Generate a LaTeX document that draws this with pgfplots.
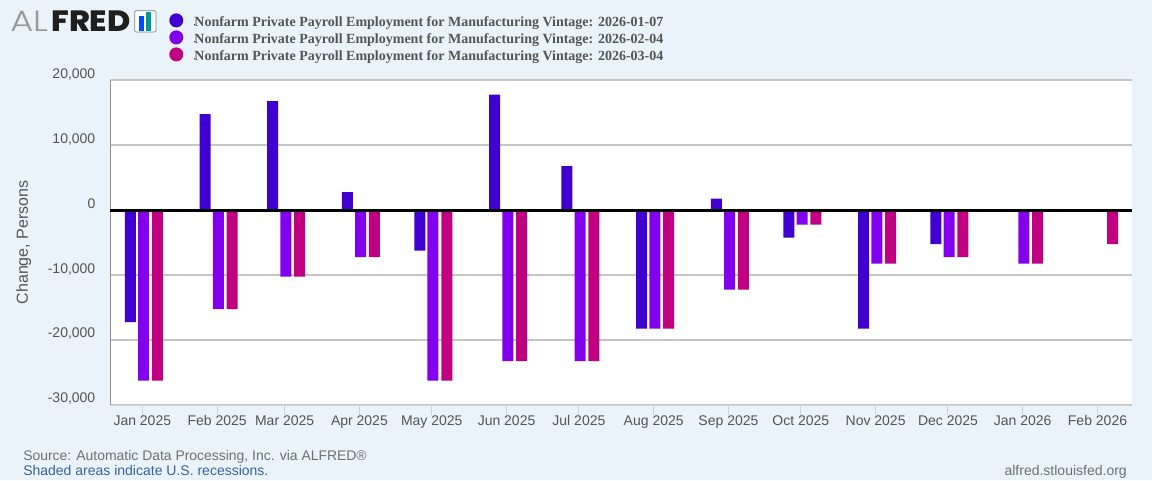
\documentclass[border=0pt]{standalone}
\usepackage{fontspec}
\usepackage{pgfplots}
\pgfplotsset{compat=1.18}
\setmainfont{Liberation Sans}
\newfontfamily\legendfont{Liberation Serif}
\newfontfamily\logoheavy{Poppins ExtraBold}
\newfontfamily\logolight{Poppins Light}
\definecolor{pagebg}{HTML}{EAF2FA}
\definecolor{gridgray}{HTML}{C6C6C6}
\definecolor{tickblue}{HTML}{C8D4E6}
\definecolor{labelgray}{HTML}{555555}
\definecolor{sourcegray}{HTML}{707070}
\definecolor{recessblue}{HTML}{3465A4}
\definecolor{serA}{HTML}{4000CF}
\definecolor{serB}{HTML}{8200EE}
\definecolor{serC}{HTML}{C00080}
\newcommand{\labelfont}{\fontsize{10.5pt}{12pt}\selectfont}

% x is days since 2025-01-01, y is change in persons
\pgfplotstableread{
day   v
0    -17000
31    15000
59    17000
90     3000
120   -6000
151   18000
181    7000
212  -18000
243    2000
273   -4000
304  -18000
334   -5000
}\vintageA
\pgfplotstableread{
day   v
0    -26000
31   -15000
59   -10000
90    -7000
120  -26000
151  -23000
181  -23000
212  -18000
243  -12000
273   -2000
304   -8000
334   -7000
365   -8000
}\vintageB
\pgfplotstableread{
day   v
0    -26000
31   -15000
59   -10000
90    -7000
120  -26000
151  -23000
181  -23000
212  -18000
243  -12000
273   -2000
304   -8000
334   -7000
365   -8000
396   -5000
}\vintageC

\begin{document}
\begin{tikzpicture}
\path[use as bounding box, fill=pagebg] (0pt,0pt) rectangle (864pt,360pt);

% logo
\node[anchor=base west, inner sep=0pt, text=gray!80] at (7.5pt,336.2pt)
  {\scalebox{1.2}[1]{\fontsize{22pt}{22pt}\logolight AL}};
\node[anchor=base west, inner sep=0pt, text=black!88] at (38.25pt,336.2pt)
  {\scalebox{1.08}[1]{\fontsize{22pt}{22pt}\logoheavy FRED}};
\draw[gray, fill=white, rounded corners=1pt, line width=0.5pt]
  (101pt,336pt) rectangle (117pt,352pt);
\fill[blue!70!cyan] (104.2pt,336.5pt) rectangle (108pt,348pt);
\fill[teal!80!cyan] (109.5pt,336.5pt) rectangle (113.2pt,351pt);

\begin{axis}[
    at={(82.5pt,56.25pt)}, anchor=south west,
    scale only axis, width=766.5pt, height=243.75pt,
    xmin=-13.4, xmax=410.3,
    ymin=-30000, ymax=20000,
    axis background/.style={fill=white},
    axis lines*=left,
    axis line style={-},
    x axis line style={tickblue, line width=0.75pt},
    y axis line style={gray!85, line width=0.75pt},
    xtick={0,31,59,90,120,151,181,212,243,273,304,334,365,396},
    xticklabels={Jan 2025,Feb 2025,Mar 2025,Apr 2025,May 2025,Jun 2025,Jul 2025,Aug 2025,Sep 2025,Oct 2025,Nov 2025,Dec 2025,Jan 2026,Feb 2026},
    ytick={-30000,-20000,-10000,0,10000,20000},
    scaled y ticks=false,
    tick align=outside,
    major tick length=7.5pt,
    xtick style={tickblue, line width=0.75pt},
    ytick style={draw=none},
    ymajorgrids,
    y grid style={gridgray, line width=1.5pt},
    tick label style={font=\labelfont, text=labelgray},
    xticklabel style={yshift=3pt},
    yticklabel style={anchor=east, yshift=4.5pt, xshift=0pt},
    /pgf/number format/.cd, 1000 sep={,}, assume math mode=true, /pgfplots/.cd,
    ylabel={Change, Persons},
    ylabel style={at={(axis description cs:-0.0845,0.5)}, anchor=center, font=\fontsize{12pt}{14pt}\selectfont, text=labelgray},
    legend cell align=left,
    legend style={
      at={(axis description cs:0.0822,1.2004)}, anchor=north west,
      draw=none, fill=none, inner sep=0pt,
      font=\legendfont\fontsize{10.5pt}{11pt}\selectfont\bfseries,
      text=labelgray, row sep=1.75pt, column sep=0pt,
      nodes={inner sep=0pt, text depth=2.5pt, text height=8.5pt}
    },
    legend image code/.code={
      \fill[#1, overlay] (-13.5pt,2.7pt) circle (5.25pt);
      \path (0pt,0pt) rectangle (0.1pt,0.1pt);
    },
]
\addplot[ybar, bar width=8.25pt, bar shift=-9pt, fill=serA, draw=none, yshift=-1.125pt] table[x=day,y=v] {\vintageA};
\addlegendentry{Nonfarm Private Payroll Employment for Manufacturing Vintage: 2026-01-07}
\addplot[ybar, bar width=8.25pt, bar shift=0.9pt, fill=serB, draw=none, yshift=-1.125pt] table[x=day,y=v] {\vintageB};
\addlegendentry{Nonfarm Private Payroll Employment for Manufacturing Vintage: 2026-02-04}
\addplot[ybar, bar width=8.25pt, bar shift=11.25pt, fill=serC, draw=none, yshift=-1.125pt] table[x=day,y=v] {\vintageC};
\addlegendentry{Nonfarm Private Payroll Employment for Manufacturing Vintage: 2026-03-04}
\draw[black, line width=1.9pt, yshift=-0.2pt] (rel axis cs:0,0.6) -- (rel axis cs:1,0.6);
\end{axis}

% footer
\node[anchor=base west, inner sep=0pt, text=sourcegray] at (17.25pt,15pt)
  {\fontsize{10.45pt}{12pt}\selectfont Source: Automatic Data Processing, Inc. via ALFRED®};
\node[anchor=base west, inner sep=0pt, text=recessblue] at (17.25pt,3.75pt)
  {\labelfont Shaded areas indicate U.S. recessions.};
\node[anchor=base east, inner sep=0pt, text=sourcegray] at (845.25pt,3.75pt)
  {\labelfont alfred.stlouisfed.org};
\end{tikzpicture}
\end{document}
